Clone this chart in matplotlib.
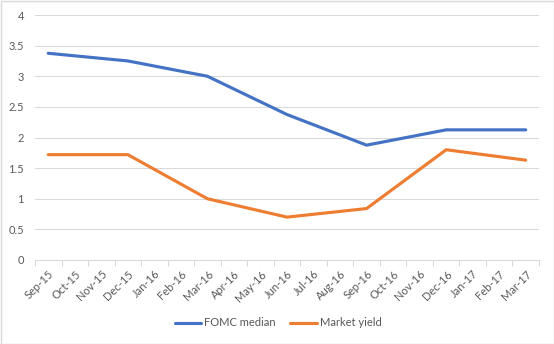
import numpy as np
import matplotlib
matplotlib.use("Agg")
import matplotlib.pyplot as plt
from matplotlib.patches import Rectangle

plt.rcParams['font.family'] = ['Lato', 'DejaVu Sans']

months = ["Sep-15", "Oct-15", "Nov-15", "Dec-15", "Jan-16", "Feb-16", "Mar-16",
          "Apr-16", "May-16", "Jun-16", "Jul-16", "Aug-16", "Sep-16", "Oct-16",
          "Nov-16", "Dec-16", "Jan-17", "Feb-17", "Mar-17"]
# quarterly observations, None where there was no meeting
fomc_median = [3.375, None, None, 3.25, None, None, 3.0, None, None, 2.375,
               None, None, 1.875, None, None, 2.125, None, None, 2.125]
market_yield = [1.72, None, None, 1.72, None, None, 1.0, None, None, 0.70,
                None, None, 0.84, None, None, 1.80, None, None, 1.63]

BLUE = "#4472c4"
ORANGE = "#ed7d31"
GREY = "#595959"


def valid(series):
    idx = [i for i, v in enumerate(series) if v is not None]
    return np.array(idx), np.array([series[i] for i in idx])


fig = plt.figure(figsize=(5.54, 3.44), dpi=100)
ax = fig.add_axes([35 / 554, 1 - 260 / 344, 504 / 554, 245 / 344])

x, y = valid(fomc_median)
ax.plot(x, y, color=BLUE, lw=2.25, solid_capstyle="round", label="FOMC median")
x, y = valid(market_yield)
ax.plot(x, y, color=ORANGE, lw=2.25, solid_capstyle="round", label="Market yield")

ax.set_xlim(-0.5, len(months) - 0.5)
ax.set_ylim(0, 4)
ax.set_yticks(np.arange(0, 4.01, 0.5))
ax.set_yticklabels(["0", "0.5", "1", "1.5", "2", "2.5", "3", "3.5", "4"])
ax.grid(axis="y", color="#d9d9d9", lw=0.75)
ax.set_axisbelow(True)

ax.set_xticks(np.arange(len(months)))
ax.set_xticklabels(months, rotation=45, ha="right", rotation_mode="anchor")
ax.set_xticks(np.arange(-0.5, len(months)), minor=True)
ax.tick_params(axis="x", which="major", length=0, labelsize=8, colors=GREY, pad=6)
ax.tick_params(axis="x", which="minor", length=4, color="#d9d9d9", width=0.75)
ax.tick_params(axis="y", length=0, labelsize=8, colors=GREY, pad=8)

for side in ["top", "right", "left"]:
    ax.spines[side].set_visible(False)
ax.spines["bottom"].set_color("#d9d9d9")
ax.spines["bottom"].set_linewidth(0.75)

fig.legend(loc="center", bbox_to_anchor=(278 / 554, 1 - 323 / 344), ncol=2, frameon=False,
           fontsize=8, labelcolor=GREY, handlelength=2.4, handletextpad=0.25,
           columnspacing=1.3)

fig.patches.append(Rectangle((0.5 / 554, 0.5 / 344), 1 - 1 / 554, 1 - 1 / 344,
                             transform=fig.transFigure, fill=False,
                             edgecolor="#d9d9d9", lw=1))

fig.savefig("out.png", dpi=100)
